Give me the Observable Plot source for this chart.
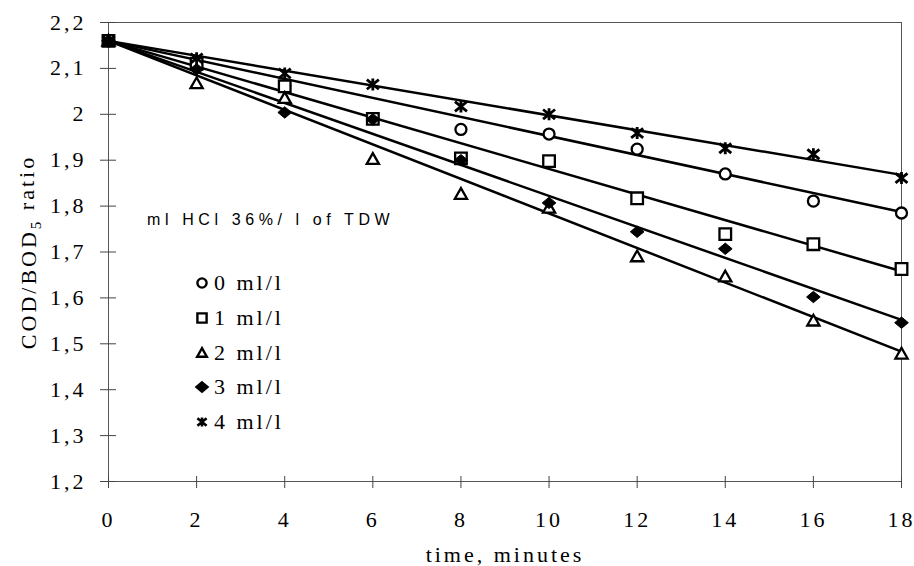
<!DOCTYPE html>
<html><head><meta charset="utf-8">
<script src="https://cdn.jsdelivr.net/npm/d3@7"></script>
<script src="https://cdn.jsdelivr.net/npm/@observablehq/plot@0.6"></script>
<style>
html,body{margin:0;padding:0;background:#fff;}
#chart{position:relative;width:914px;height:566px;}
#chart svg text{letter-spacing:3px;font-family:"Times New Roman",Times,"Liberation Serif","DejaVu Serif",serif;}
.leg{position:absolute;font-family:"Times New Roman",Times,"Liberation Serif","DejaVu Serif",serif;font-size:22px;letter-spacing:3px;line-height:24px;white-space:nowrap;color:#000;}
.legtitle{position:absolute;font-family:Arial,"Liberation Sans",sans-serif;font-size:16px;letter-spacing:4.6px;line-height:20px;white-space:nowrap;color:#000;}
.legsym{position:absolute;}
</style></head><body><div id="chart"></div>
<script>
// ---- data ----
const times = [0, 2, 4, 6, 8, 10, 12, 14, 16, 18];
const seriesNames = ["0 ml/l", "1 ml/l", "2 ml/l", "3 ml/l", "4 ml/l"];
const ratio0ml = [2.16, 2.115, 2.062, 1.990, 1.967, 1.957, 1.924, 1.870, 1.811, 1.785];
const ratio1ml = [2.16, 2.110, 2.061, 1.990, 1.904, 1.898, 1.817, 1.739, 1.717, 1.663];
const ratio2ml = [2.16, 2.067, 2.035, 1.902, 1.826, 1.796, 1.690, 1.646, 1.550, 1.478];
const ratio3ml = [2.16, 2.098, 2.004, 1.989, 1.900, 1.807, 1.744, 1.707, 1.602, 1.546];
const ratio4ml = [2.16, 2.122, 2.089, 2.065, 2.017, 2.000, 1.959, 1.926, 1.913, 1.861];
// fitted trend lines: value at t = 0 and t = 18
const fitStart = [2.16, 2.16, 2.16, 2.16, 2.16];
const fitEnd = [1.787, 1.658, 1.483, 1.552, 1.868];
const xTicks = [0, 2, 4, 6, 8, 10, 12, 14, 16, 18];
const yTicks = [1.2, 1.3, 1.4, 1.5, 1.6, 1.7, 1.8, 1.9, 2.0, 2.1, 2.2];
const legendTitle = "ml HCl 36%/ l of TDW";
const xLabel = "time, minutes";
const yLabelMain = "COD/BOD";
const yLabelSub = "5";
const yLabelTail = " ratio";

// ---- symbols ----
const rad = size => Math.sqrt(size / Math.PI);
const symCircle = {draw(c, s){ const r = rad(s); c.moveTo(r, 0); c.arc(0, 0, r, 0, 2 * Math.PI); c.closePath(); }};
const symSquare = {draw(c, s){ const r = rad(s); c.rect(-r, -r, 2 * r, 2 * r); }};
const symTriangle = {draw(c, s){ const r = rad(s); c.moveTo(0, -r * 1.05); c.lineTo(r * 1.05, r * 0.8); c.lineTo(-r * 1.05, r * 0.8); c.closePath(); }};
const symDiamond = {draw(c, s){ const r = rad(s); c.moveTo(0, -r); c.lineTo(r * 1.2, 0); c.lineTo(0, r); c.lineTo(-r * 1.2, 0); c.closePath(); }};
const symAsterisk = {draw(c, s){ const r = rad(s); c.moveTo(-r, -r * 0.8); c.lineTo(r, r * 0.8); c.moveTo(-r, r * 0.8); c.lineTo(r, -r * 0.8); c.moveTo(0, -r); c.lineTo(0, r); }};

const allSeries = [ratio0ml, ratio1ml, ratio2ml, ratio3ml, ratio4ml];
const styles = [
  {symbol: symCircle, fill: "white", stroke: "black", strokeWidth: 2.3, r: 5.5},
  {symbol: symSquare, fill: "white", stroke: "black", strokeWidth: 2.3, r: 5.8},
  {symbol: symTriangle, fill: "white", stroke: "black", strokeWidth: 2.3, r: 5.8},
  {symbol: symDiamond, fill: "black", stroke: "black", strokeWidth: 1, r: 5.7},
  {symbol: symAsterisk, fill: "none", stroke: "black", strokeWidth: 2.8, r: 6}
];

const points = allSeries.map((vals, i) => vals.map((v, j) => ({t: times[j], v, s: seriesNames[i]})));
const fits = seriesNames.flatMap((s, i) => [
  {t: times[0], v: fitStart[i], s},
  {t: times[times.length - 1], v: fitEnd[i], s}
]);

const fmt = d => String(+d.toFixed(1)).replace(".", ",");
const serif = '"Times New Roman",Times,"Liberation Serif","DejaVu Serif",serif';

const plot = Plot.plot({
  width: 914, height: 566,
  marginLeft: 108, marginRight: 13, marginTop: 22, marginBottom: 85,
  style: {fontFamily: serif, fontSize: "22px", background: "white", color: "black"},
  x: {domain: [0, 18]},
  y: {domain: [1.2, 2.2]},
  marks: [
    Plot.frame({stroke: "#555", strokeWidth: 1}),
    Plot.axisX({ticks: xTicks, tickSize: 12, dy: -5, tickFormat: () => "", label: null, stroke: "#444"}),
    Plot.axisX({ticks: xTicks, tickSize: 0, tickPadding: 30, tickFormat: d => String(d), label: xLabel, labelAnchor: "center", labelArrow: false, labelOffset: 80}),
    Plot.axisY({ticks: yTicks, tickSize: 16, dx: 8, tickFormat: () => "", label: null, stroke: "#444"}),
    Plot.axisY({ticks: yTicks, tickSize: 0, tickPadding: 22, tickFormat: fmt, label: yLabelMain + yLabelSub + yLabelTail, labelAnchor: "center", labelArrow: false, labelOffset: 88}),
    Plot.line(fits, {x: "t", y: "v", z: "s", stroke: "black", strokeWidth: 2.5}),
    ...points.map((pts, i) => Plot.dot(pts, {x: "t", y: "v", ...styles[i]}))
  ]
});

const chart = document.getElementById("chart");
chart.appendChild(plot);

// subscript in y label
d3.select(plot).selectAll('g[aria-label="y-axis label"] text').each(function(){
  const t = d3.select(this);
  t.text(null);
  t.append("tspan").text(yLabelMain);
  t.append("tspan").attr("dy", "0.3em").attr("font-size", "15px").text(yLabelSub);
  t.append("tspan").attr("dy", "-0.3em").text(yLabelTail);
});

// legend overlay
const title = document.createElement("div");
title.className = "legtitle";
title.style.left = "147px"; title.style.top = "210px";
title.textContent = legendTitle;
chart.appendChild(title);
const legendRows = [283, 318, 353, 387, 422];
seriesNames.forEach((name, i) => {
  const st = styles[i];
  const p = d3.path();
  const r = 4.6;
  st.symbol.draw(p, Math.PI * r * r);
  const svg = d3.create("svg").attr("class", "legsym").attr("width", 16).attr("height", 16)
    .attr("viewBox", "-8 -8 16 16")
    .style("left", "194px").style("top", (legendRows[i] - 8) + "px");
  svg.append("path").attr("d", p.toString()).attr("fill", st.fill).attr("stroke", st.stroke)
    .attr("stroke-width", i === 4 ? 2.6 : 2.4);
  chart.appendChild(svg.node());
  const lab = document.createElement("div");
  lab.className = "leg";
  lab.style.left = "214px"; lab.style.top = (legendRows[i] - 12) + "px";
  lab.textContent = name;
  chart.appendChild(lab);
});
</script></body></html>
